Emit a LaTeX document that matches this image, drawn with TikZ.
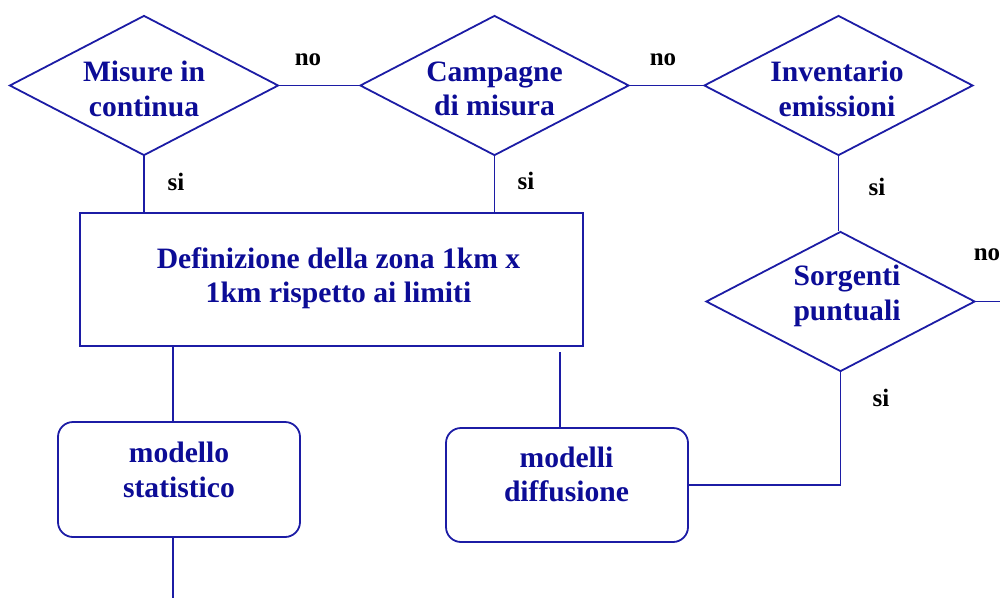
\documentclass[tikz,border=0pt]{standalone}
\usepackage{fontspec}
\setmainfont{Liberation Serif}
\usetikzlibrary{shapes.geometric}
\definecolor{txtblue}{RGB}{12,12,150}
\definecolor{lnblue}{RGB}{28,28,165}
\tikzset{
  dia/.style={diamond, draw=lnblue, line width=1.8pt, inner sep=0pt, minimum width=269, minimum height=140},
  rbox/.style={rectangle, draw=lnblue, line width=1.8pt, rounded corners=15pt, inner sep=0pt, minimum width=242, minimum height=115},
  sbox/.style={rectangle, draw=lnblue, line width=1.8pt, inner sep=0pt},
  maintxt/.style={text=txtblue, align=center, inner sep=0pt, font=\fontsize{29.6}{34.5}\selectfont\bfseries},
  yn/.style={text=black, inner sep=0pt, font=\fontsize{25}{30}\selectfont\bfseries},
  conn/.style={draw=lnblue, line width=1.8pt}
}
\begin{document}
\begin{tikzpicture}[x=1pt,y=-1pt]
\useasboundingbox (0,0) rectangle (1000,597);
% shapes
\node[dia] (d1) at (144,85.5) {};
\node[dia] (d2) at (494.5,85.5) {};
\node[dia] (d3) at (838.5,85.5) {};
\node[dia] (d4) at (840.5,301.5) {};
\node[sbox, minimum width=503, minimum height=133] (box) at (331.5,279.5) {};
\node[rbox] (ms) at (179,479.5) {};
\node[rbox, minimum height=114] (md) at (567,485) {};
% texts
\node[maintxt] (t1) at (144,89) {Misure in\\continua};
\node[maintxt] (t2) at (494.5,89) {Campagne\\di misura};
\node[maintxt] (t3) at (837,89) {Inventario\\emissioni};
\node[maintxt] (t4) at (847,296) {Sorgenti\\puntuali};
\node[maintxt] (tb) at (338.5,278) {Definizione della zona 1km x\\1km rispetto ai limiti};
\node[maintxt] (tms) at (179,470) {modello\\statistico};
\node[maintxt] (tmd) at (566.5,474.5) {modelli\\diffusione};
% yes / no labels
\node[yn] (no1) at (308,60) {no};
\node[yn] (no2) at (663,60) {no};
\node[yn] (no3) at (987,255) {no};
\node[yn] (si1) at (176,182) {si};
\node[yn] (si2) at (526,181) {si};
\node[yn] (si3) at (877,187) {si};
\node[yn] (si4) at (881,398) {si};
% helper coordinates
\coordinate (c1) at (173,0);
\coordinate (c2) at (560,352);
\coordinate (rout) at (1010,301.5);
\coordinate (bend) at (173,610);
% connectors
\draw[conn] (d1.east) -- (d2.west);
\draw[conn] (d2.east) -- (d3.west);
\draw[conn] (d1.south) -- (d1.south |- box.north);
\draw[conn] (d2.south) -- (d2.south |- box.north);
\draw[conn] (d3.south) -- (d3.south |- d4.north);
\draw[conn] (d4.east) -- (rout);
\draw[conn] (d4.south) |- (md.east);
\draw[conn] (c1 |- box.south) -- (c1 |- ms.north);
\draw[conn] (c1 |- ms.south) -- (bend);
\draw[conn] (c2) -- (c2 |- md.north);
\end{tikzpicture}
\end{document}
